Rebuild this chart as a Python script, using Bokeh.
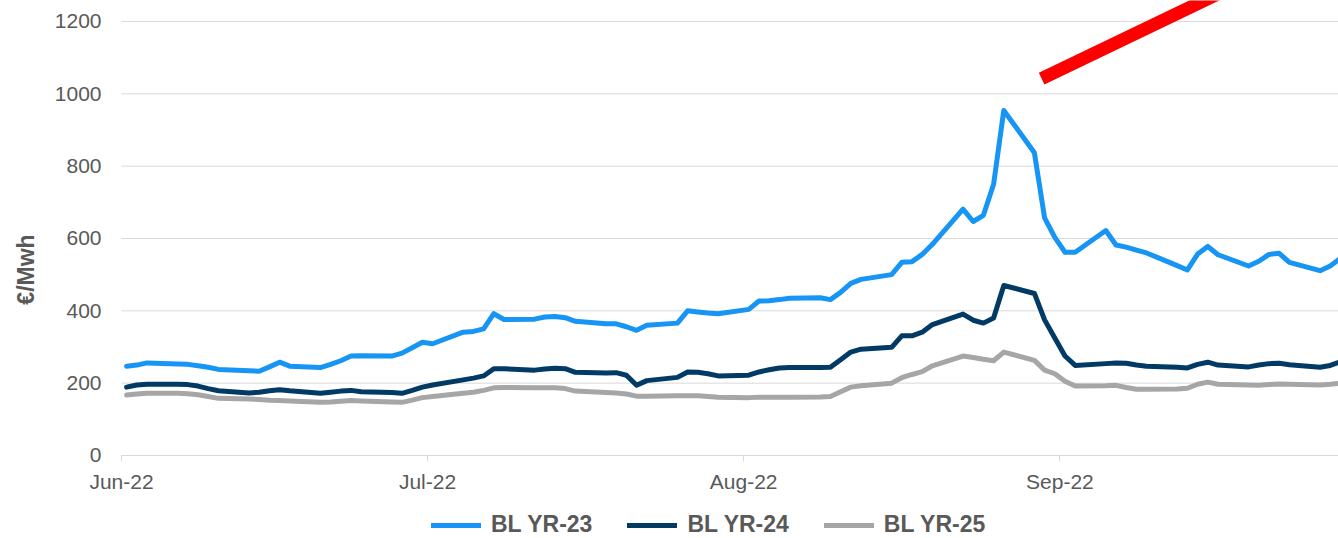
from datetime import datetime, timedelta
from bokeh.plotting import figure
from bokeh.models import ColumnDataSource, FixedTicker, Legend, LegendItem, Range1d
from bokeh.embed import file_html
from bokeh.resources import INLINE

# ---- data (business days, Jun-Sep 2022) ----
jun_days = [1, 2, 3, 6, 7, 8, 9, 10, 13, 14, 15, 16, 17, 20, 21, 22, 23, 24, 27, 28, 29, 30]
jul_days = [1, 4, 5, 6, 7, 8, 11, 12, 13, 14, 15, 18, 19, 20, 21, 22, 25, 26, 27, 28, 29]
aug_days = [1, 2, 3, 4, 5, 8, 9, 10, 11, 12, 15, 16, 17, 18, 19, 22, 23, 24, 25, 26, 29, 30, 31]
sep_days = [1, 2, 5, 6, 7, 8, 9, 12, 13, 14, 15, 16, 19, 20, 21, 22, 23, 26, 27, 28]

bl_yr23 = [247, 250, 256, 253, 252, 248, 244, 238, 234, 233, 245, 258, 247, 243, 252, 262, 275, 276, 275, 283, 298, 313,
           309, 341, 343, 350, 392, 376, 377, 383, 384, 381, 371, 364, 364, 356, 346, 360, 366, 400, 397, 394, 392,
           404, 427, 428, 431, 435, 436, 431, 451, 476, 487, 500, 534, 536, 556, 584, 681, 647, 664, 750, 954, 837, 657, 603,
           562, 562, 622, 582, 576, 568, 560, 525, 513, 557, 578, 555, 524, 537, 556, 559, 534, 511, 524, 545]
bl_yr24 = [189, 195, 197, 197, 196, 192, 185, 179, 173, 175, 179, 182, 179, 172, 175, 178, 180, 176, 174, 172, 180, 189,
           195, 209, 214, 220, 240, 240, 236, 239, 241, 240, 230, 228, 229, 222, 194, 207, 216, 231, 230, 226, 220,
           222, 231, 237, 242, 243, 243, 244, 265, 286, 294, 299, 331, 331, 341, 362, 391, 374, 366, 380, 470, 448, 375, 325,
           275, 249, 254, 256, 255, 250, 247, 244, 242, 252, 258, 250, 245, 250, 254, 255, 251, 244, 249, 259]
bl_yr25 = [167, 170, 172, 172, 171, 168, 163, 158, 156, 155, 153, 152, 151, 147, 148, 150, 152, 151, 148, 147, 153, 160,
           163, 172, 175, 180, 187, 188, 187, 187, 187, 185, 178, 174, 173, 170, 164, 164, 165, 165, 165, 163, 161,
           160, 161, 161, 161, 161, 162, 163, 176, 189, 193, 200, 215, 224, 232, 248, 275, 271, 266, 262, 286, 263, 236, 226,
           205, 192, 193, 194, 188, 183, 183, 184, 186, 197, 203, 197, 195, 194, 196, 198, 197, 195, 197, 200]

series_names = ["BL YR-23", "BL YR-24", "BL YR-25"]
series_colors = ["#1795F5", "#023A66", "#A6A6A6"]

tick_dates = [datetime(2022, 6, 1), datetime(2022, 7, 1), datetime(2022, 8, 1), datetime(2022, 9, 1)]
tick_labels = ["Jun-22", "Jul-22", "Aug-22", "Sep-22"]
y_ticks = [0, 200, 400, 600, 800, 1000, 1200]

# red annotation stroke (start / end, data coordinates)
arrow_x = [datetime(2022, 8, 30, 5), datetime(2022, 9, 19, 5)]
arrow_y = [1042, 1313]

dates = ([datetime(2022, 6, d) for d in jun_days] + [datetime(2022, 7, d) for d in jul_days] +
         [datetime(2022, 8, d) for d in aug_days] + [datetime(2022, 9, d) for d in sep_days])
# Excel date axis: points sit in the middle of the day slot
xs = [d + timedelta(hours=12) for d in dates]

EPOCH = datetime(1970, 1, 1)
def ms(d):
    return (d - EPOCH).total_seconds() * 1000.0

FONT = "Liberation Sans"
TXT = "#595959"
DAY = 86400000.0
PX_PER_DAY = 10.2
W, H = 1338, 538
AXIS_LEFT_PX = 121

data_start = ms(datetime(2022, 6, 1))
x_start = data_start - AXIS_LEFT_PX / PX_PER_DAY * DAY
x_end = x_start + W / PX_PER_DAY * DAY

# frame covers the whole canvas; both axes are pinned inside it
p = figure(width=W, height=H, x_axis_type="datetime", output_backend="svg",
           toolbar_location=None, title=None,
           x_range=Range1d(x_start, x_end), y_range=Range1d(-229.5, 1258),
           min_border_left=0, min_border_right=0, min_border_top=0, min_border_bottom=0)
p.outline_line_color = None
p.background_fill_color = "white"

# horizontal gridlines from the axis start to the right edge
p.xgrid.grid_line_color = None
p.ygrid.grid_line_color = None
p.segment(x0=[data_start] * len(y_ticks), x1=[x_end] * len(y_ticks), y0=y_ticks, y1=y_ticks,
          line_color="#D9D9D9", line_width=1)

renderers = []
for name, vals, col in zip(series_names, [bl_yr23, bl_yr24, bl_yr25], series_colors):
    src = ColumnDataSource(dict(x=xs, y=vals))
    r = p.line("x", "y", source=src, line_color=col, line_width=5, line_join="round", line_cap="round")
    renderers.append((name, r))

p.line(arrow_x, arrow_y, line_color="#FF0000", line_width=13, line_cap="butt")

# x axis
xa = p.xaxis[0]
xa.fixed_location = 0
xa.bounds = (data_start, x_end)
xa.ticker = FixedTicker(ticks=[ms(d) for d in tick_dates])
xa.major_label_overrides = {ms(d): lab for d, lab in zip(tick_dates, tick_labels)}
xa.axis_line_color = "#D9D9D9"
xa.major_tick_line_color = "#D9D9D9"
xa.major_tick_out = 6
xa.major_tick_in = 0
xa.minor_tick_line_color = None
xa.major_label_standoff = 9
xa.major_label_text_font = FONT
xa.major_label_text_font_size = "21px"
xa.major_label_text_color = TXT

# y axis
ya = p.yaxis[0]
ya.fixed_location = data_start
ya.ticker = FixedTicker(ticks=y_ticks)
ya.axis_line_color = None
ya.major_tick_line_color = None
ya.minor_tick_line_color = None
ya.major_tick_out = 0
ya.major_tick_in = 0
ya.major_label_standoff = 20
ya.major_label_text_font = FONT
ya.major_label_text_font_size = "21px"
ya.major_label_text_color = TXT
ya.axis_label = "€/Mwh"
ya.axis_label_standoff = 13
ya.axis_label_text_font = FONT
ya.axis_label_text_font_style = "bold"
ya.axis_label_text_font_size = "23px"
ya.axis_label_text_color = TXT

legend = Legend(items=[LegendItem(label=n, renderers=[r]) for n, r in renderers],
                location=(431, 0), orientation="horizontal",
                border_line_color=None, background_fill_alpha=0,
                padding=0, margin=0, spacing=35, glyph_width=50, glyph_height=20,
                label_standoff=10, label_text_font=FONT, label_text_font_style="bold",
                label_text_font_size="23px", label_text_color=TXT)
p.add_layout(legend)

open("out.html", "w").write(file_html(p, INLINE))
